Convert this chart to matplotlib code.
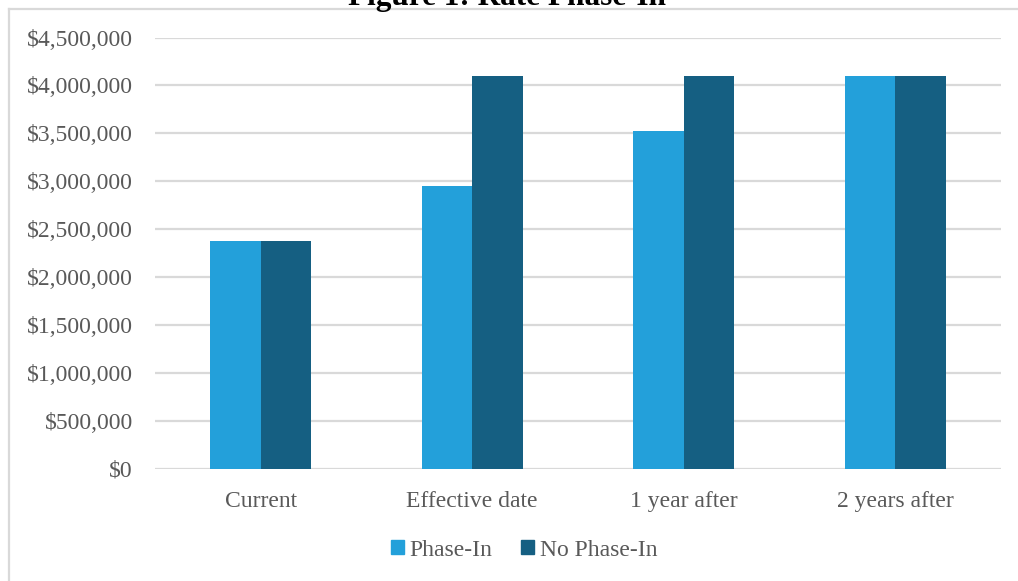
import matplotlib
matplotlib.use("Agg")
import matplotlib.pyplot as plt
import numpy as np
from matplotlib.lines import Line2D
from matplotlib.ticker import FuncFormatter

categories = ["Current", "Effective date", "1 year after", "2 years after"]
phase_in = [2380000, 2950000, 3520000, 4100000]
no_phase_in = [2380000, 4100000, 4100000, 4100000]
series_names = ["Phase-In", "No Phase-In"]
yticks = [0, 500000, 1000000, 1500000, 2000000, 2500000, 3000000, 3500000, 4000000, 4500000]

c_light = "#23A0DA"
c_dark = "#155F82"
txt = "#595959"
grid = "#D9D9D9"
serif = ["Liberation Serif", "DejaVu Serif"]

W, H = 1018, 581
fig = plt.figure(figsize=(W / 100, H / 100), dpi=100)
ax = fig.add_axes([155 / W, 1 - 469 / H, (1001 - 155) / W, (469 - 37.5) / H])

x = np.arange(len(categories))
bw = 0.239
ax.bar(x - bw / 2, phase_in, bw, color=c_light, zorder=3)
ax.bar(x + bw / 2, no_phase_in, bw, color=c_dark, zorder=3)

ax.set_xlim(-0.5, len(categories) - 0.5)
ax.set_ylim(0, 4500000)
ax.set_yticks(yticks)
ax.yaxis.set_major_formatter(FuncFormatter(lambda v, p: "${:,.0f}".format(v)))
ax.set_xticks(x)
ax.set_xticklabels(categories)
ax.grid(axis="y", color=grid, linewidth=1.6, zorder=0)
for s in ax.spines.values():
    s.set_visible(False)
ax.tick_params(axis="both", length=0, colors=txt, labelsize=17)
ax.tick_params(axis="y", pad=16)
ax.tick_params(axis="x", pad=16)
for lab in ax.get_xticklabels() + ax.get_yticklabels():
    lab.set_family(serif)
    lab.set_color(txt)

# frame lines (left and top)
fig.add_artist(Line2D([9 / W, 9 / W], [0, 1 - 9 / H], color=grid, linewidth=1.6))
fig.add_artist(Line2D([9 / W, 1], [1 - 9 / H, 1 - 9 / H], color=grid, linewidth=1.6))

# title (clipped at the top in the reference)
fig.text(507 / W, 1 - 5 / H, "Figure 1: Rate Phase-In", ha="center", va="baseline",
         fontsize=22.5, fontweight="bold", family=serif, color="black")

handles = [plt.Rectangle((0, 0), 1, 1, color=c_light), plt.Rectangle((0, 0), 1, 1, color=c_dark)]
leg = fig.legend(handles, series_names, loc="center", bbox_to_anchor=(524 / W, 1 - 550 / H),
                 ncol=2, frameon=False, prop={"family": serif, "size": 17},
                 handlelength=0.55, handleheight=0.55, handletextpad=0.25, columnspacing=1.2)
for t in leg.get_texts():
    t.set_color(txt)

fig.savefig("out.png", dpi=100)
